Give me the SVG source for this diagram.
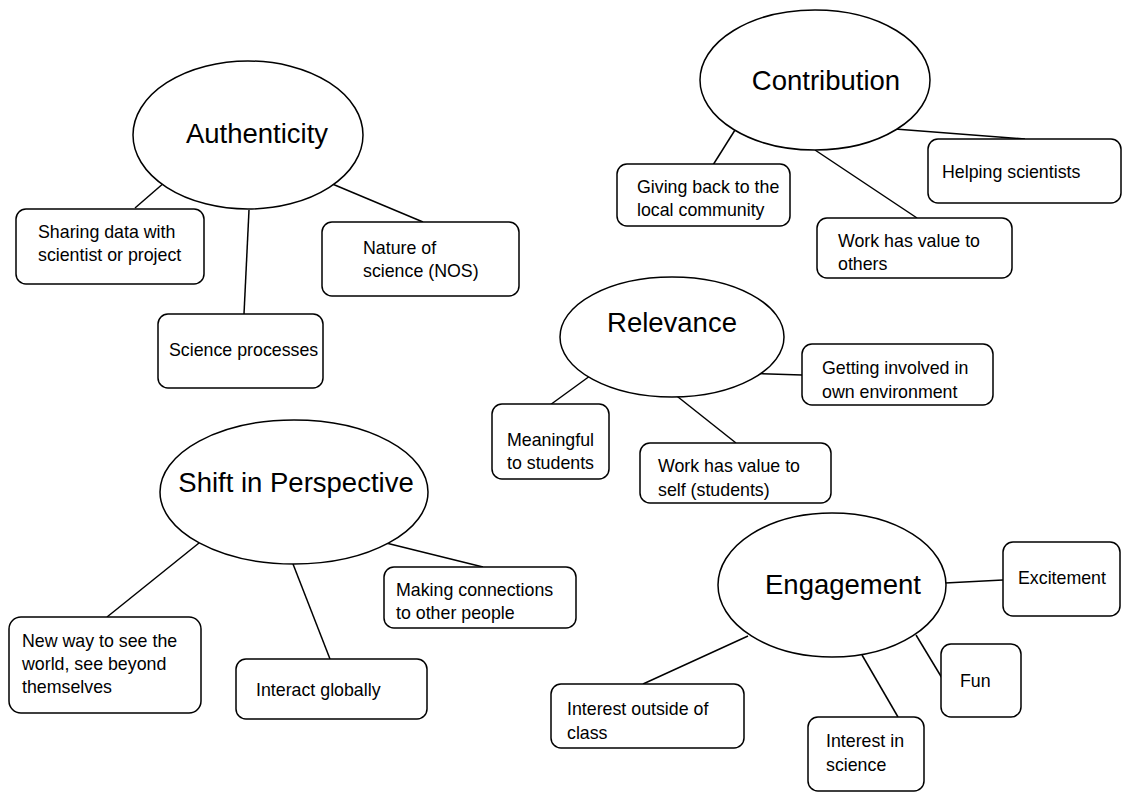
<svg xmlns="http://www.w3.org/2000/svg" width="1126" height="792" viewBox="0 0 1126 792">
<style>
.e{fill:#fff;stroke:#000;stroke-width:1.5}
.b{fill:#fff;stroke:#000;stroke-width:1.5}
.c line{stroke:#000;stroke-width:1.5}
.h{font-family:"Liberation Sans",Arial,sans-serif;font-size:27.5px;fill:#000;text-anchor:middle}
.t{font-family:"Liberation Sans",Arial,sans-serif;font-size:17.8px;fill:#000}
</style>
<rect width="1126" height="792" fill="#fff"/>
<g class="c" id="connectors">
<line x1="165" y1="182" x2="135" y2="208"/>
<line x1="249" y1="210" x2="244" y2="314"/>
<line x1="330" y1="183" x2="423" y2="222"/>
<line x1="735" y1="130" x2="713" y2="165"/>
<line x1="895" y1="129" x2="1025" y2="139"/>
<line x1="815" y1="150" x2="917" y2="218"/>
<line x1="713" y1="372" x2="802" y2="375"/>
<line x1="594" y1="373" x2="550" y2="405"/>
<line x1="673" y1="393" x2="736" y2="443"/>
<line x1="199" y1="543" x2="107" y2="617"/>
<line x1="293" y1="564" x2="330" y2="659"/>
<line x1="382" y1="542" x2="483" y2="567"/>
<line x1="945" y1="583" x2="1003" y2="580"/>
<line x1="916" y1="635" x2="942" y2="678"/>
<line x1="862" y1="655" x2="898" y2="717"/>
<line x1="748" y1="636" x2="643" y2="684"/>
</g>
<g id="authenticity"><ellipse class="e" cx="248" cy="135" rx="115" ry="74"/><text class="h" x="257" y="143">Authenticity</text></g>
<g id="sharing"><rect class="b" x="16" y="209" width="188" height="75" rx="10"/><text class="t" x="38" y="238">Sharing data with</text><text class="t" x="38" y="261">scientist or project</text></g>
<g id="processes"><rect class="b" x="158" y="314" width="165" height="74" rx="10"/><text class="t" x="169" y="356">Science processes</text></g>
<g id="nos"><rect class="b" x="322" y="222" width="197" height="74" rx="10"/><text class="t" x="363" y="254">Nature of</text><text class="t" x="363" y="277">science (NOS)</text></g>
<g id="contribution"><ellipse class="e" cx="815" cy="80" rx="115" ry="70"/><text class="h" x="826" y="90">Contribution</text></g>
<g id="giving"><rect class="b" x="617" y="164" width="173" height="62" rx="10"/><text class="t" x="637" y="193">Giving back to the</text><text class="t" x="637" y="216">local community</text></g>
<g id="helping"><rect class="b" x="928" y="139" width="193" height="64" rx="10"/><text class="t" x="942" y="178">Helping scientists</text></g>
<g id="others"><rect class="b" x="817" y="218" width="195" height="60" rx="10"/><text class="t" x="838" y="247">Work has value to</text><text class="t" x="838" y="270">others</text></g>
<g id="relevance"><ellipse class="e" cx="672" cy="337" rx="112" ry="60"/><text class="h" x="672" y="332">Relevance</text></g>
<g id="involved"><rect class="b" x="802" y="344" width="191" height="61" rx="10"/><text class="t" x="822" y="374">Getting involved in</text><text class="t" x="822" y="398">own environment</text></g>
<g id="meaningful"><rect class="b" x="492" y="404" width="117" height="75" rx="10"/><text class="t" x="507" y="446">Meaningful</text><text class="t" x="507" y="469">to students</text></g>
<g id="self"><rect class="b" x="640" y="443" width="191" height="60" rx="10"/><text class="t" x="658" y="472">Work has value to</text><text class="t" x="658" y="496">self (students)</text></g>
<g id="shift"><ellipse class="e" cx="294" cy="492" rx="134" ry="72"/><text class="h" x="296" y="492">Shift in Perspective</text></g>
<g id="newway"><rect class="b" x="9" y="617" width="192" height="96" rx="12"/><text class="t" x="22" y="647">New way to see the</text><text class="t" x="22" y="670">world, see beyond</text><text class="t" x="22" y="693">themselves</text></g>
<g id="interact"><rect class="b" x="236" y="659" width="191" height="60" rx="10"/><text class="t" x="256" y="696">Interact globally</text></g>
<g id="making"><rect class="b" x="384" y="567" width="192" height="61" rx="10"/><text class="t" x="396" y="596">Making connections</text><text class="t" x="396" y="619">to other people</text></g>
<g id="engagement"><ellipse class="e" cx="832" cy="585" rx="114" ry="72"/><text class="h" x="843" y="594">Engagement</text></g>
<g id="excitement"><rect class="b" x="1003" y="542" width="117" height="74" rx="10"/><text class="t" x="1018" y="584">Excitement</text></g>
<g id="fun"><rect class="b" x="941" y="644" width="80" height="73" rx="10"/><text class="t" x="960" y="687">Fun</text></g>
<g id="science"><rect class="b" x="808" y="717" width="116" height="74" rx="10"/><text class="t" x="826" y="747">Interest in</text><text class="t" x="826" y="771">science</text></g>
<g id="outside"><rect class="b" x="551" y="684" width="193" height="64" rx="10"/><text class="t" x="567" y="715">Interest outside of</text><text class="t" x="567" y="739">class</text></g>
</svg>
